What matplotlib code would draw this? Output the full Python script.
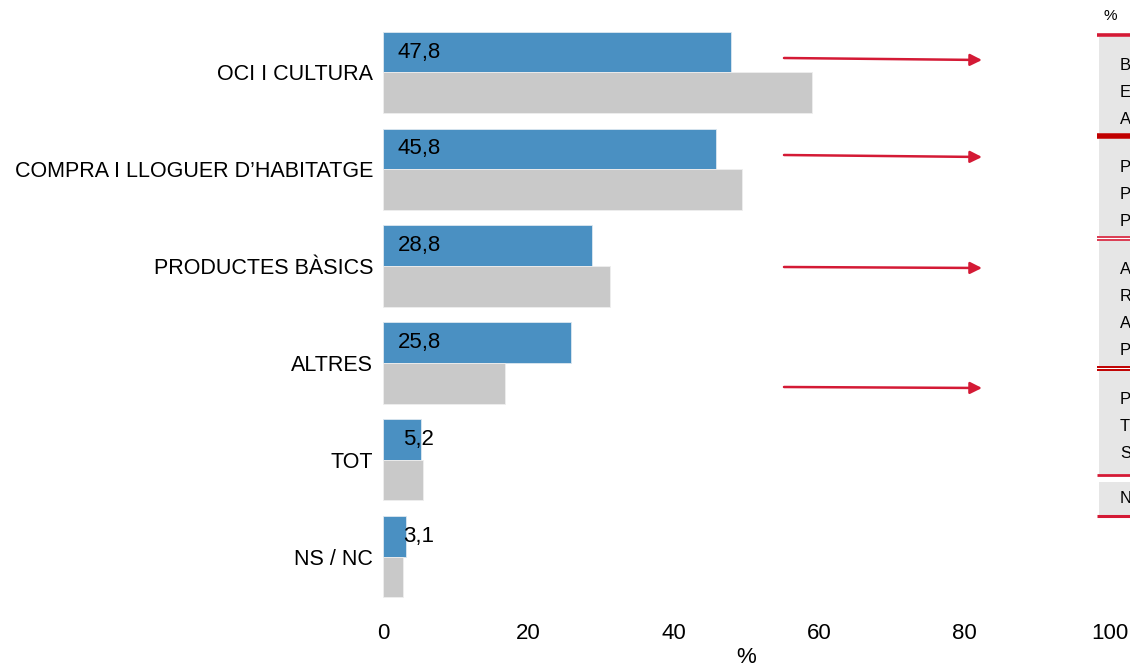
import numpy as np
import matplotlib.pyplot as plt
from matplotlib.patches import Rectangle

plt.rcParams['font.family'] = ['Liberation Sans', 'DejaVu Sans']

categories = ['OCI I CULTURA', 'COMPRA I LLOGUER D\u2019HABITATGE', 'PRODUCTES BÀSICS',
              'ALTRES', 'TOT', 'NS / NC']
blue_vals = [47.8, 45.8, 28.8, 25.8, 5.2, 3.1]
gray_vals = [59.0, 49.4, 31.2, 16.8, 5.5, 2.8]
blue_labels = ['47,8', '45,8', '28,8', '25,8', '5,2', '3,1']
xticks = [0, 20, 40, 60, 80, 100]

# side table, only first letters visible (cut by the image border)
table_groups = [['B', 'E', 'A'], ['P', 'P', 'P'], ['A', 'R', 'A', 'P'], ['P', 'T', 'S'], ['N']]

BLUE = '#4a90c2'
GRAY = '#c9c9c9'
RED = '#d41a35'
DARKRED = '#c00000'

W, H = 1130, 666
fig = plt.figure(figsize=(W / 100, H / 100), dpi=100)
ax = fig.add_axes([383 / W, 1 - 605 / H, 727 / W, 581 / H])

y = np.arange(len(categories))
bh = 0.42
ax.barh(y - bh / 2, blue_vals, height=bh, color=BLUE, edgecolor='#dde8f0', linewidth=0.6)
ax.barh(y + bh / 2, gray_vals, height=bh, color=GRAY, edgecolor='#eeeeee', linewidth=0.6)

for i, (v, lab) in enumerate(zip(blue_vals, blue_labels)):
    off = 15 if v > 10 else 20
    ax.annotate(lab, (0, i - bh / 2), xytext=(off, 0), textcoords='offset pixels',
                ha='left', va='center', fontsize=16, color='black')

ax.set_xlim(0, 100)
ax.set_ylim(len(categories) - 0.5, -0.5)
ax.set_yticks(y)
ax.set_yticklabels(categories, fontsize=15.5)
ax.set_xticks(xticks)
ax.set_xticklabels([str(t) for t in xticks], fontsize=16)
ax.tick_params(axis='y', length=0, pad=7)
ax.tick_params(axis='x', length=0, pad=13)
ax.set_xlabel('%', fontsize=16, labelpad=2)
for s in ax.spines.values():
    s.set_visible(False)

# overlay in pixel coordinates for arrows and the side table
ov = fig.add_axes([0, 0, 1, 1], zorder=5)
ov.set_xlim(0, W)
ov.set_ylim(H, 0)
ov.axis('off')
ov.patch.set_alpha(0)

arrows = [(58, 60), (155, 157), (267, 268), (387, 388)]
for y0, y1 in arrows:
    ov.annotate('', xy=(982, y1), xytext=(784, y0),
                arrowprops=dict(arrowstyle='-|>,head_length=0.7,head_width=0.35',
                                color=RED, lw=1.8, shrinkA=0, shrinkB=0))

ov.text(1103, 16, '%', fontsize=11, ha='left', va='center')
boxes = [(37, 133), (139, 236), (241, 366), (371, 474), (482, 515)]
for (top, bot), letters in zip(boxes, table_groups):
    ov.add_patch(Rectangle((1099, top), 40, bot - top, color='#e6e6e6', lw=0))
    step = 27.3
    start = top + 28 if len(letters) > 1 else (top + bot) / 2
    for k, letter in enumerate(letters):
        ov.text(1120, start + k * step, letter, fontsize=12, ha='left', va='center')

ov.plot([1097, 1135], [35, 35], color=RED, lw=2.6, solid_capstyle='butt')
ov.plot([1097, 1135], [136, 136], color=DARKRED, lw=4, solid_capstyle='butt')
ov.plot([1097, 1135], [236.5, 236.5], color=RED, lw=1.2, solid_capstyle='butt')
ov.plot([1097, 1135], [240, 240], color=RED, lw=1.2, solid_capstyle='butt')
ov.plot([1097, 1135], [366.5, 366.5], color=DARKRED, lw=1.4, solid_capstyle='butt')
ov.plot([1097, 1135], [370, 370], color=DARKRED, lw=1.4, solid_capstyle='butt')
ov.plot([1097, 1135], [475, 475], color=RED, lw=2, solid_capstyle='butt')
ov.plot([1097, 1135], [516, 516], color=RED, lw=2.2, solid_capstyle='butt')

fig.savefig('out.png', dpi=100)
